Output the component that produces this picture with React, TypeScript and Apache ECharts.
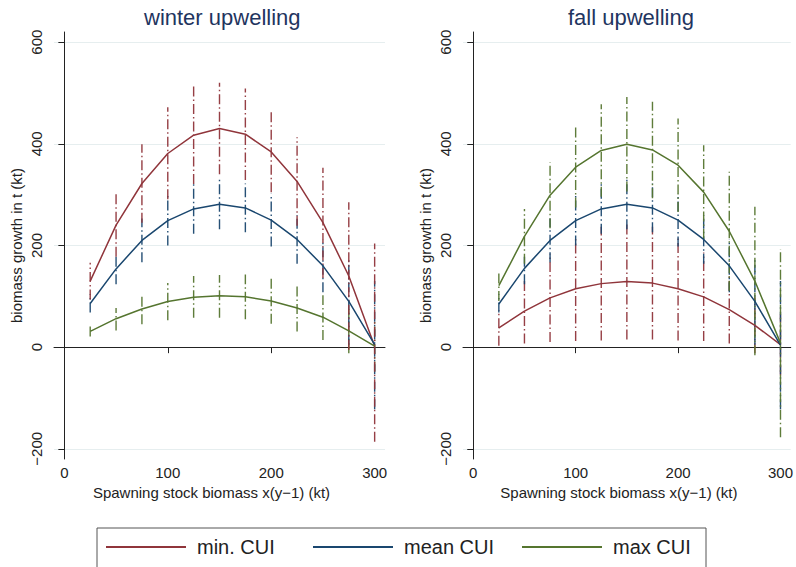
import React, { useEffect, useRef } from "react";
import * as echarts from "echarts";

// Spawning stock biomass x(y-1) (kt)
const xValues = [25, 50, 75, 100, 125, 150, 175, 200, 225, 250, 275, 300];

// winter upwelling
const winterMin = [130, 240, 322, 381, 417, 430, 419, 384, 326, 245, 140, 2];
const winterMinLow = [94, 178, 245, 291, 321, 340, 329, 305, 239, 136, -5, -186];
const winterMinHigh = [166, 302, 399, 472, 514, 520, 509, 463, 413, 353, 285, 204];
const winterMean = [86, 154, 210, 249, 272, 281, 274, 250, 212, 160, 90, 5];
const winterMeanLow = [68, 124, 167, 200, 223, 232, 226, 198, 164, 108, 5, -122];
const winterMeanHigh = [104, 184, 253, 298, 321, 330, 322, 302, 260, 212, 175, 130];
const winterMax = [31, 56, 75, 90, 98, 101, 99, 91, 77, 59, 32, 2];
const winterMaxLow = [21, 33, 45, 53, 58, 58, 55, 46, 31, 14, -12, -48];
const winterMaxHigh = [41, 77, 105, 126, 140, 142, 143, 136, 123, 102, 75, 52];

// fall upwelling
const fallMin = [38, 71, 97, 115, 125, 129, 126, 115, 99, 74, 43, 5];
const fallMinLow = [3, 7, 10, 12, 13, 15, 15, 13, 12, 7, -12, -55];
const fallMinHigh = [73, 135, 184, 218, 237, 243, 237, 217, 186, 141, 98, 65];
const fallMean = [85, 155, 210, 249, 272, 281, 274, 250, 212, 160, 90, 4];
const fallMeanLow = [68, 124, 167, 200, 223, 232, 226, 198, 164, 108, 5, -122];
const fallMeanHigh = [104, 184, 253, 298, 321, 330, 322, 302, 260, 212, 175, 130];
const fallMax = [121, 218, 299, 354, 387, 399, 388, 358, 305, 228, 130, 8];
const fallMaxLow = [91, 164, 234, 275, 296, 306, 293, 266, 213, 111, -16, -177];
const fallMaxHigh = [151, 272, 364, 433, 478, 492, 483, 450, 397, 345, 276, 193];

const xTicks = [0, 100, 200, 300];
const yTicks = [-200, 0, 200, 400, 600];
const seriesNames = ["min. CUI", "mean CUI", "max CUI"];
const panelTitles = ["winter upwelling", "fall upwelling"];

const RED = "#90353b";
const BLUE = "#1a476f";
const GREEN = "#55752f";
const FONT = "Liberation Sans, Arial, sans-serif";

const pts = (ys: number[]) => xValues.map((x, i) => [x, ys[i]]);
const bars = (lo: number[], hi: number[]) => xValues.map((x, i) => [x, lo[i], hi[i]]);

function barSeries(name: string, idx: number, lo: number[], hi: number[], color: string, z: number) {
  return {
    type: "custom",
    name: name + " CI",
    xAxisIndex: idx,
    yAxisIndex: idx,
    z,
    silent: true,
    dimensions: ["x", "lo", "hi"],
    encode: { x: 0, y: [1, 2] },
    data: bars(lo, hi),
    renderItem: (params: any, api: any) => {
      const x = api.value(0);
      const p1 = api.coord([x, api.value(1)]);
      const p2 = api.coord([x, api.value(2)]);
      return {
        type: "line",
        shape: { x1: p1[0], y1: p1[1], x2: p2[0], y2: p2[1] },
        style: { stroke: color, lineWidth: 1.4, lineDash: [10, 3, 1.5, 3], opacity: 0.95 },
      };
    },
  };
}

function lineSeries(name: string, idx: number, ys: number[], color: string) {
  return {
    type: "line",
    name,
    xAxisIndex: idx,
    yAxisIndex: idx,
    z: 10,
    data: pts(ys),
    symbol: "none",
    color,
    lineStyle: { color, width: 1.5 },
  };
}

function xAxisFor(idx: number) {
  return {
    type: "value",
    gridIndex: idx,
    min: -10,
    max: 310,
    name: "Spawning stock biomass x(y\u22121) (kt)",
    nameLocation: "middle",
    nameGap: 26,
    nameTextStyle: { fontSize: 15, color: "#222", fontFamily: FONT, padding: [0, 16, 0, 0] },
    axisLine: { show: true, lineStyle: { color: "#222", width: 1 } },
    axisTick: { show: true, length: 6, lineStyle: { color: "#222" }, customValues: xTicks },
    axisLabel: { fontSize: 15, color: "#222", fontFamily: FONT, margin: 6, customValues: xTicks },
    splitLine: { show: false },
  };
}

function yAxisFor(idx: number) {
  return {
    type: "value",
    gridIndex: idx,
    min: -220,
    max: 620,
    name: "biomass growth in t (kt)",
    nameLocation: "middle",
    nameGap: 30,
    nameTextStyle: { fontSize: 15, color: "#222", fontFamily: FONT },
    axisLine: { show: true, lineStyle: { color: "#222", width: 1 } },
    axisTick: { show: true, length: 6, lineStyle: { color: "#222" }, customValues: yTicks },
    axisLabel: {
      fontSize: 15,
      color: "#222",
      fontFamily: FONT,
      rotate: 90,
      margin: 10,
      customValues: yTicks,
      formatter: (v: number) => String(v).replace("-", "\u2212"),
    },
    splitLine: { show: true, lineStyle: { color: "#e6eeef", width: 1 } },
  };
}

function legendFor(name: string, left: number) {
  return {
    data: [{ name, icon: "rect" }],
    left,
    top: 537,
    padding: 0,
    itemWidth: 80,
    itemHeight: 2,
    itemGap: 0,
    selectedMode: false,
    textStyle: { fontSize: 20, color: "#222", fontFamily: FONT, padding: [0, 0, 0, 6] },
  };
}

export default function App() {
  const ref = useRef<HTMLDivElement>(null);
  useEffect(() => {
    if (!ref.current) return;
    const chart = echarts.init(ref.current, undefined, { renderer: "svg" });
    chart.setOption({
      animation: false,
      backgroundColor: "#ffffff",
      textStyle: { fontFamily: FONT },
      title: [
        { text: panelTitles[0], left: 139, top: 1, textStyle: { fontSize: 22, fontWeight: "normal", color: "#1f3560", fontFamily: FONT } },
        { text: panelTitles[1], left: 563, top: 1, textStyle: { fontSize: 22, fontWeight: "normal", color: "#1f3560", fontFamily: FONT } },
      ],
      grid: [
        { left: 54, top: 32, width: 331, height: 427 },
        { left: 463, top: 32, width: 331, height: 427 },
      ],
      xAxis: [xAxisFor(0), xAxisFor(1)],
      yAxis: [yAxisFor(0), yAxisFor(1)],
      legend: [legendFor(seriesNames[0], 106), legendFor(seriesNames[1], 313), legendFor(seriesNames[2], 522)],
      graphic: [
        {
          type: "rect",
          shape: { x: 97, y: 528, width: 609, height: 60 },
          style: { fill: "none", stroke: "#555", lineWidth: 1 },
          silent: true,
        },
      ],
      series: [
        barSeries(seriesNames[2], 0, winterMaxLow, winterMaxHigh, GREEN, 2),
        barSeries(seriesNames[1], 0, winterMeanLow, winterMeanHigh, BLUE, 3),
        barSeries(seriesNames[0], 0, winterMinLow, winterMinHigh, RED, 4),
        lineSeries(seriesNames[0], 0, winterMin, RED),
        lineSeries(seriesNames[1], 0, winterMean, BLUE),
        lineSeries(seriesNames[2], 0, winterMax, GREEN),
        barSeries(seriesNames[0], 1, fallMinLow, fallMinHigh, RED, 2),
        barSeries(seriesNames[1], 1, fallMeanLow, fallMeanHigh, BLUE, 3),
        barSeries(seriesNames[2], 1, fallMaxLow, fallMaxHigh, GREEN, 4),
        lineSeries(seriesNames[0], 1, fallMin, RED),
        lineSeries(seriesNames[1], 1, fallMean, BLUE),
        lineSeries(seriesNames[2], 1, fallMax, GREEN),
      ],
    });
    return () => chart.dispose();
  }, []);
  return <div ref={ref} style={{ position: "absolute", left: 0, top: 0, width: 796, height: 567 }} />;
}
